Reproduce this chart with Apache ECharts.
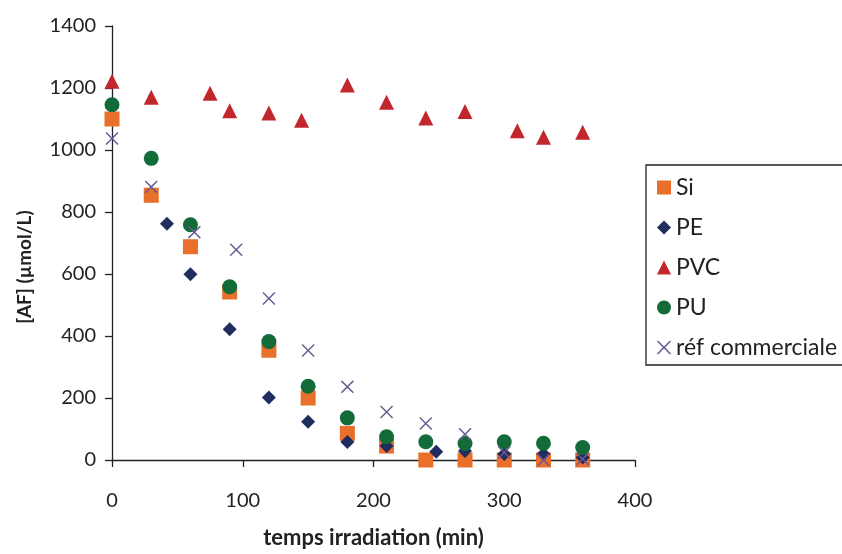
<!DOCTYPE html>
<html>
<head>
<meta charset="utf-8">
<script src="https://cdn.jsdelivr.net/npm/echarts@6/dist/echarts.min.js"></script>
<style>html,body{margin:0;padding:0;background:#fff}#c{width:842px;height:554px}</style>
</head>
<body>
<div id="c"></div>
<script>
const xTicks = [0, 100, 200, 300, 400];
const yTicks = [0, 200, 400, 600, 800, 1000, 1200, 1400];

const siX = [0, 30, 60, 90, 120, 150, 180, 210, 240, 270, 300, 330, 360];
const siY = [1100, 854, 688, 542, 354, 200, 86, 45, 0, 0, 0, 0, 0];

const peX = [42, 60, 90, 120, 150, 180, 210, 248, 270, 300, 330, 360];
const peY = [762, 599, 422, 202, 123, 58, 45, 27, 29, 19, 19, 8];

const pvcX = [0, 30, 75, 90, 120, 145, 180, 210, 240, 270, 310, 330, 360];
const pvcY = [1222, 1170, 1183, 1127, 1119, 1096, 1210, 1154, 1103, 1124, 1062, 1041, 1057];

const puX = [0, 30, 60, 90, 120, 150, 180, 210, 240, 270, 300, 330, 360];
const puY = [1146, 973, 759, 559, 382, 238, 136, 75, 59, 53, 59, 54, 40];

const refX = [0, 30, 63, 95, 120, 150, 180, 210, 240, 270, 300, 330, 360];
const refY = [1037, 881, 735, 678, 521, 353, 236, 155, 118, 83, 24, 0, 3];

const names = ['Si', 'PE', 'PVC', 'PU', 'réf commerciale'];
const colors = ['#E8702A', '#1F2D5F', '#C1272D', '#136B3A', '#6A5A94'];
const crossPath = 'path://M0,0.8L0.8,0L5,4.2L9.2,0L10,0.8L5.8,5L10,9.2L9.2,10L5,5.8L0.8,10L0,9.2L4.2,5Z';
const symbols = ['rect', 'diamond', 'triangle', 'circle', crossPath];
const sizes = [15, 14, 15, 15, 13];
const xs = [siX, peX, pvcX, puX, refX];
const ys = [siY, peY, pvcY, puY, refY];

const FONT = 'Lato, "Open Sans", sans-serif';
const TXT = '#222';

const series = names.map((n, i) => ({
  name: n,
  type: 'scatter',
  symbol: symbols[i],
  symbolSize: sizes[i],
  itemStyle: { color: colors[i], opacity: 1 },
  data: xs[i].map((x, k) => [x, ys[i][k]]),
  z: 2 + i
}));

const chart = echarts.init(document.getElementById('c'), null, { renderer: 'canvas' });
chart.setOption({
  animation: false,
  backgroundColor: '#fff',
  grid: { left: 112, right: 207, top: 26, bottom: 91, containLabel: false },
  xAxis: {
    type: 'value', min: xTicks[0], max: xTicks[xTicks.length - 1], interval: 100,
    name: 'temps irradiation (min)', nameLocation: 'middle', nameGap: 67,
    nameTextStyle: { fontFamily: FONT, fontWeight: 'bold', fontSize: 22, color: TXT },
    axisLine: { show: true, lineStyle: { color: TXT, width: 1.3 } },
    axisTick: { show: true, inside: false, length: 7, lineStyle: { color: TXT, width: 1.3 } },
    axisLabel: { fontFamily: FONT, fontSize: 20, color: TXT, margin: 31, formatter: v => String(v) },
    splitLine: { show: false }
  },
  yAxis: {
    type: 'value', min: yTicks[0], max: yTicks[yTicks.length - 1], interval: 200,
    axisLine: { show: true, lineStyle: { color: TXT, width: 1.3 } },
    axisTick: { show: true, inside: false, length: 7, lineStyle: { color: TXT, width: 1.3 } },
    axisLabel: { fontFamily: FONT, fontSize: 20, color: TXT, margin: 16, formatter: v => String(v) },
    splitLine: { show: false }
  },
  legend: {
    orient: 'vertical', left: 646, top: 165,
    borderColor: TXT, borderWidth: 1.3, borderRadius: 0,
    padding: [11, 20, 6, 11], itemGap: 17, itemWidth: 14, itemHeight: 14,
    textStyle: { fontFamily: FONT, fontSize: 23, color: TXT },
    data: names.map((n, i) => ({ name: n, icon: symbols[i], itemStyle: { color: colors[i] } }))
  },
  graphic: [{
    type: 'text', x: 25, y: 267, rotation: Math.PI / 2,
    style: { text: '[AF] (µmol/L)', font: 'bold 19px ' + FONT, fill: TXT, align: 'center', verticalAlign: 'middle' }
  }],
  series: series
});
</script>
</body>
</html>
